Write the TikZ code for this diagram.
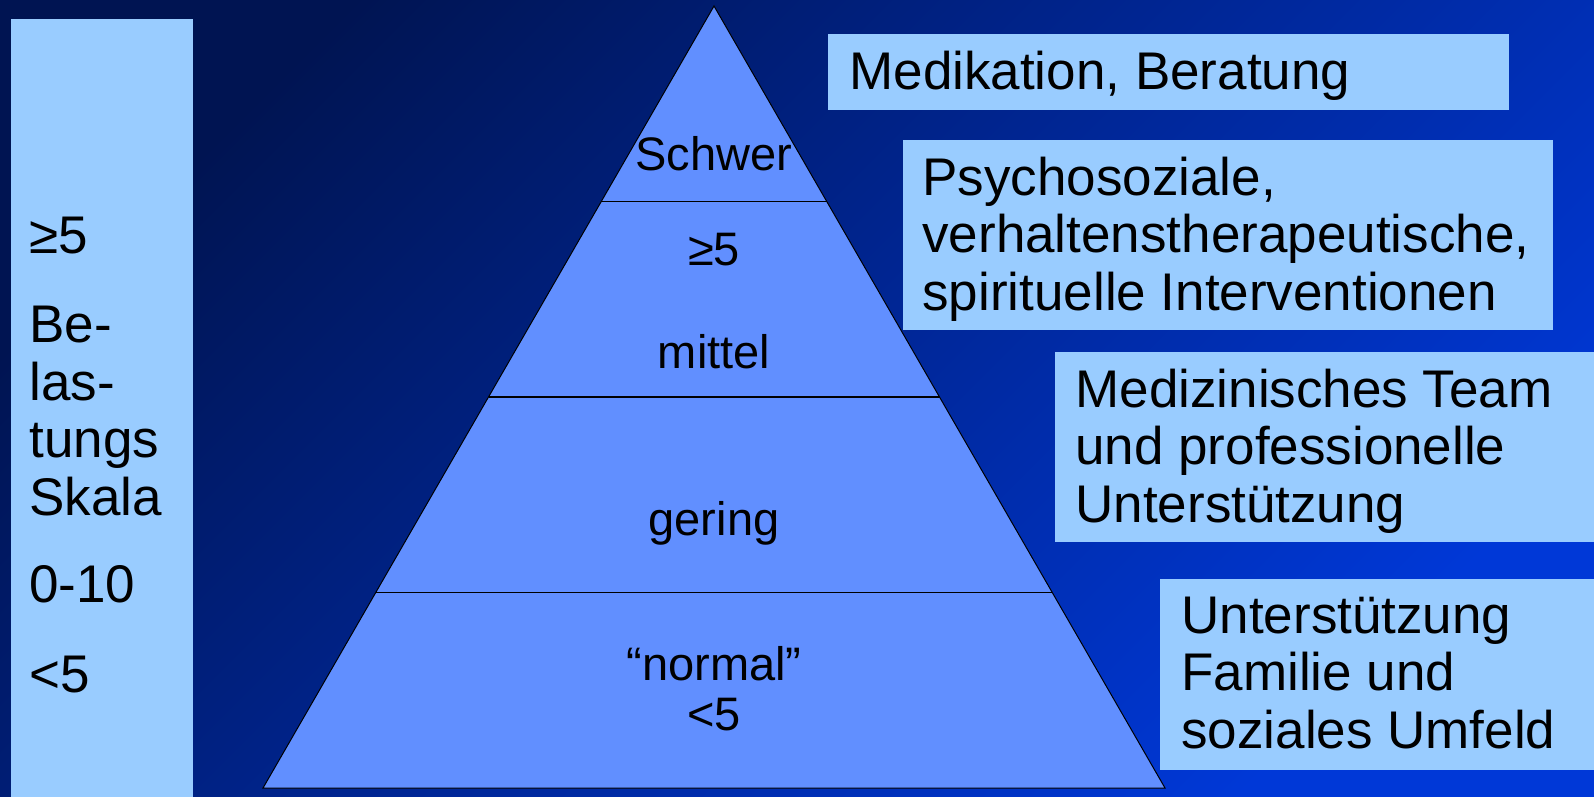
\documentclass[tikz,border=0pt]{standalone}
\usepackage{fontspec}
\setmainfont{Liberation Sans}
\usetikzlibrary{calc,positioning}
\definecolor{bgdark}{RGB}{0,20,82}
\definecolor{bglight}{RGB}{0,56,215}
\definecolor{boxblue}{RGB}{153,204,255}
\definecolor{pyrblue}{RGB}{97,143,255}
\newcommand{\boxfont}{\fontsize{26.5}{28.75}\selectfont}
\newcommand{\pyrfont}{\fontsize{23.5}{25}\selectfont}

\begin{document}
\begin{tikzpicture}[x=0.5pt, y=-0.5pt,
    infobox/.style={fill=boxblue, draw=none},
    infotext/.style={anchor=base west, align=left, inner sep=0pt, font=\boxfont},
    pyrtext/.style={anchor=base, align=center, inner sep=0pt, font=\pyrfont}]
        %background
        \shade[top color=bgdark, bottom color=bglight, shading angle=45] (0,0) rectangle (1594,797);
        \useasboundingbox (0,0) rectangle (1594,797);
        %scale box (base = last line)
        \fill[infobox] (11,19) rectangle (193,797);
        \node[infotext] (ge) at (29,253) {≥5};
        \node[infotext] (skala) at (29,515) {Be-\\las-\\tungs\\Skala};
        \node[infotext] (range) at (29,602) {0-10};
        \node[infotext] (lt) at (29,692) {<5};
        %pyramid
        \coordinate (apex) at (714,6);
        \coordinate (bl) at (263,788);
        \coordinate (br) at (1165,788);
        \filldraw[fill=pyrblue, draw=black, line width=0.5pt] (apex) -- (br) -- (bl) -- cycle;
        \foreach \f in {0.25,0.5,0.75}
          \draw[line width=0.9pt] ($(apex)!\f!(bl)$) -- ($(apex)!\f!(br)$);
        \node[pyrtext] (schwer) at (714,170) {Schwer};
        \node[pyrtext] (ge5) at (714,265) {≥5};
        \node[pyrtext] (mittel) at (714,368) {mittel};
        \node[pyrtext] (gering) at (714,535) {gering};
        \node[pyrtext] (normal) at (714,730) {“normal”\\<5};
        %measures
        \fill[infobox] (828,34) rectangle (1509,110);
        \node[infotext] (med) at (849,90) {Medikation, Beratung};
        \fill[infobox] (903,140) rectangle (1553,330);
        \node[infotext] (psy) at (922,310) {Psychosoziale,\\verhaltenstherapeutische,\\spirituelle Interventionen};
        \fill[infobox] (1055,352) rectangle (1594,542);
        \node[infotext] (team) at (1075,522) {Medizinisches Team\\und professionelle\\Unterstützung};
        \fill[infobox] (1160,579) rectangle (1594,770);
        \node[infotext] (fam) at (1181,748) {Unterstützung\\Familie und\\soziales Umfeld};
      \end{tikzpicture}
\end{document}
